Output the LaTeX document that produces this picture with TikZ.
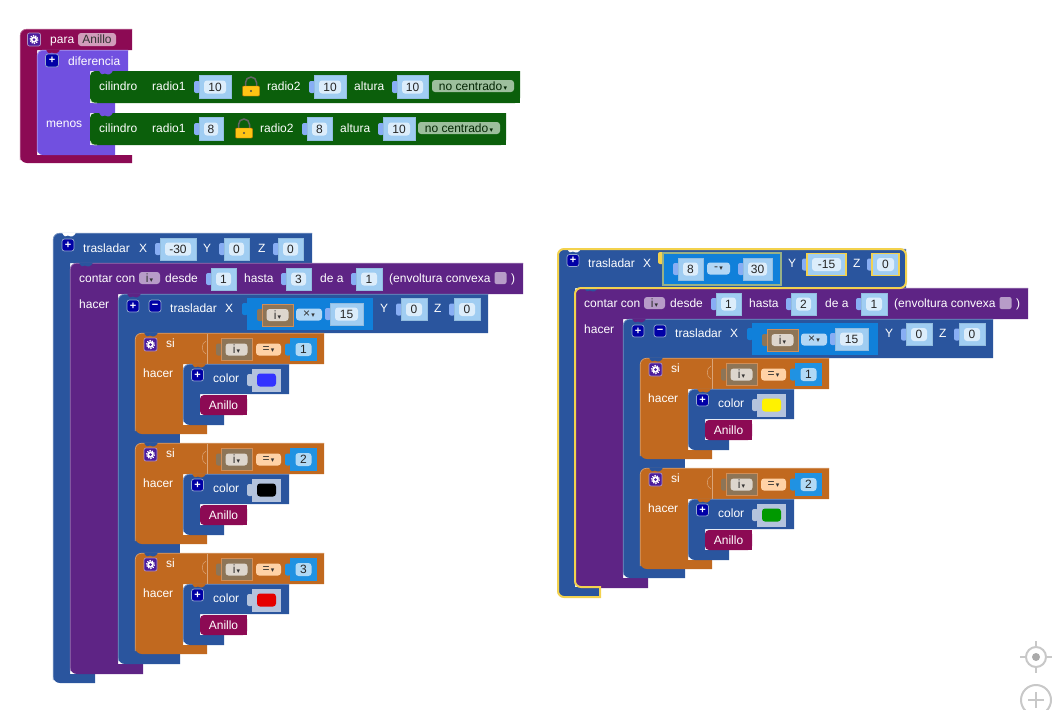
\documentclass[tikz,border=0pt]{standalone}
\usepackage{fontspec}
\setmainfont{Liberation Sans}
\newfontfamily\symfont{DejaVu Sans}
\definecolor{blockblue}{HTML}{2A559E}
\definecolor{blockpurple}{HTML}{5E2485}
\definecolor{blockbrown}{HTML}{C1691F}
\definecolor{blockmaroon}{HTML}{8C0A54}
\definecolor{blockindigo}{HTML}{7150E0}
\definecolor{blockgreen}{HTML}{0B5F0B}
\definecolor{sockblue}{HTML}{A0CDF2}
\definecolor{fieldblue}{HTML}{DCEDFB}
\definecolor{mathblue}{HTML}{1080DA}
\definecolor{numblue}{HTML}{2092E2}
\definecolor{varbrown}{HTML}{8D7557}
\definecolor{goldline}{HTML}{F3D24E}
\definecolor{lockgold}{HTML}{FFC414}
\definecolor{toolgrey}{HTML}{C8C8C8}
\newcommand{\dropmark}{{\symfont\fontsize{7}{7}\selectfont\,▾}}
\tikzset{
    lbl/.style={anchor=base west, inner sep=0pt, yshift=-4pt, text=white, font=\fontsize{12}{14}\selectfont},
    numsock/.style={fill=sockblue, draw=sockblue!92!black, line width=0.4pt, minimum height=22pt, inner sep=0pt},
    numfield/.style={fill=fieldblue, rounded corners=3pt, minimum height=13pt, inner sep=0pt, text=black!85, font=\fontsize{12}{14}\selectfont},
    chip/.style={rounded corners=3pt, minimum height=12pt, inner sep=0pt, text=black!80, font=\fontsize{12}{14}\selectfont},
    plusbtn/.style={fill=blue!65!black, draw=blockblue!50!white, line width=0.7pt, rounded corners=2.5pt, minimum size=12pt, inner sep=0pt, text=white, font=\bfseries\fontsize{11}{11}\selectfont},
    gearbtn/.style={fill=blockpurple!80!blue, draw=blockpurple!50!white, line width=0.7pt, rounded corners=2pt, minimum size=13pt, inner sep=0pt},
}
% tab on the left of a socket
\newcommand{\puztab}[3]{\fill[#3, rounded corners=2pt] ({#1-5},{#2-6}) rectangle ({#1+1},{#2+6});}
% number socket: [options] name, x, cy, width, text
\newcommand{\numbox}[6][]{
    \puztab{#3}{#4}{sockblue!85!blue}
    \node[numsock, minimum width={#5*1pt}, #1] (#2) at ({#3+#5/2},{#4}) {};
    \node[numfield, minimum width={(#5-10)*1pt}] (#2v) at (#2) {#6};
}
% the variable i in a socket: name, x, cy
\newcommand{\varbox}[3]{
    \puztab{#2}{#3}{varbrown}
    \node[fill=varbrown, draw=blockbrown!75!white, line width=0.4pt, minimum width=31pt, minimum height=22pt, inner sep=0pt] (#1) at ({#2+15.5},#3) {};
    \node[chip, fill=varbrown!30!white, minimum width=22pt] (#1v) at (#1) {i\dropmark};
}
% a C shaped block: x, top, right, row bottom, arm x, bar top, bar right, bottom, colour
\newcommand{\cblock}[9]{
    \fill[#9] ({#1+9},#2) -- (#3,#2) -- (#3,#4) -- (#5,#4) -- (#5,#6) -- (#7,#6) -- (#7,#8) [rounded corners=7pt] -- (#1,#8) -- (#1,#2) -- ({#1+9},#2);
    \draw[#9!65!white, line width=0.7pt, rounded corners=6pt] ({#1+0.3},{#8-3}) -- ({#1+0.3},{#2+0.3}) -- (#3,{#2+0.3});
}
% notch in the top edge of a block: x, y, colour
\newcommand{\notch}[3]{
    \fill[#3] ({#1+9},{#2-0.5}) .. controls ({#1+11},{#2+4}) and ({#1+13},{#2+4}) .. ({#1+15},{#2+2.5}) .. controls ({#1+18},{#2+4}) and ({#1+21},{#2+4}) .. ({#1+23},{#2-0.5}) -- cycle;
}
% a lock: name, x, cy
\newcommand{\lockmark}[3]{
    \draw[black!60, line width=1.5pt] ({#2-5.5},{#3+2}) -- ({#2-5.5},{#3-3.5}) arc[start angle=180, end angle=0, radius=5.5pt] -- ({#2+5.5},{#3+2});
    \node[fill=lockgold, draw=orange!80!black, line width=0.4pt, rounded corners=1pt, minimum width=17pt, minimum height=10pt, inner sep=0pt] (#1) at (#2,{#3+5}) {};
    \fill[black!70] (#1) circle (1.1);
}
\newcommand{\gearmark}[1]{
    \fill[white] (#1) circle (3.2);
    \draw[white, line width=1.3pt, dash pattern=on 1.3pt off 1.1pt] (#1) circle (3.9);
    \fill[blockpurple!80!blue] (#1) circle (1.5);
}
% "si" block in its own coordinates: name, number, colour of the swatch
\newcommand{\siblock}[3]{
    \cblock{0}{0}{189}{31}{48}{92}{72}{101}{blockbrown}
    \notch{0}{0}{blockblue}
    \draw[blockbrown!60!white, line width=0.6pt] (72,0.5) -- (72,30.5);
    \draw[blockbrown!60!white, line width=0.5pt] (71,8) .. controls (66,10) and (66,19) .. (71,21);
    \node[gearbtn] (#1gear) at (15.5,11.5) {};
    \gearmark{#1gear}
    \node[lbl] (#1si) at (31,10) {si};
    \node[lbl] (#1hacer) at (8,40) {hacer};
    \varbox{#1var}{86}{16.5}
    \node[chip, fill=orange!35!white, minimum width=25pt] (#1eq) at (133.5,16.5) {=\dropmark};
    \puztab{155}{16.5}{numblue}
    \node[fill=numblue, minimum width=27pt, minimum height=23pt, inner sep=0pt] (#1num) at (168.5,16.5) {};
    \node[numfield, fill=numblue!35!white, minimum width=16pt] (#1numv) at (#1num) {#2};
    \cblock{48}{31}{154}{61}{65}{82}{89}{92}{blockblue}
    \notch{48}{31}{blockbrown}
    \node[plusbtn] (#1plus) at (62.5,42) {+};
    \node[lbl] (#1color) at (78,45) {color};
    \puztab{117}{47}{blockblue!35!white}
    \node[fill=blockblue!35!white, minimum width=29pt, minimum height=23pt, inner sep=0pt] (#1sock) at (131.5,47) {};
    \node[fill=#3, rounded corners=3pt, minimum width=19pt, minimum height=13pt, inner sep=0pt] (#1swatch) at (#1sock) {};
    \fill[blockmaroon, rounded corners=4pt] (112,62) -- (112,82) -- (65,82) -- (65,62) -- cycle;
    \fill[blockmaroon] (100,62) rectangle (112,82);
    \node[lbl, anchor=base] (#1ring) at (88.5,72) {Anillo};
}
% "contar" block in its own coordinates: name, hasta value, bar top, bottom, inner bar top, inner bottom
\newcommand{\contarblock}[6]{
    \cblock{0}{0}{453}{31}{48}{#3}{73}{#4}{blockpurple}
    \notch{0}{0}{blockblue}
    \node[lbl] (#1for) at (9,15) {contar con};
    \node[chip, fill=blockpurple!45!white, minimum width=21pt] (#1i) at (79.5,15) {i\dropmark};
    \node[lbl] (#1from) at (95,15) {desde};
    \numbox{#1a}{141}{16}{25}{1}
    \node[lbl] (#1to) at (174,15) {hasta};
    \numbox{#1b}{216}{16}{25}{#2}
    \node[lbl] (#1by) at (250,15) {de a};
    \numbox{#1c}{286}{16}{26}{1}
    \node[lbl] (#1hull) at (319,15) {(envoltura convexa};
    \node[fill=blockpurple!45!white, rounded corners=2pt, minimum size=12pt, inner sep=0pt] (#1check) at (430.5,15) {};
    \node[lbl] (#1close) at (441,15) {)};
    \node[lbl] (#1do) at (9,41) {hacer};
    \cblock{48}{31}{418}{70}{65}{#5}{110}{#6}{blockblue}
    \fill[blockblue] (65,70) rectangle (110,#5);
    \notch{48}{31}{blockpurple}
    \node[plusbtn] (#1plus) at (63,43) {+};
    \node[plusbtn] (#1minus) at (85,43) {−};
    \node[lbl] (#1tr) at (100,45) {trasladar};
    \node[lbl] (#1x) at (155,45) {X};
    \puztab{177}{46}{mathblue}
    \node[fill=mathblue, minimum width=126pt, minimum height=32pt, inner sep=0pt] (#1math) at (240,51) {};
    \varbox{#1var}{192}{52}
    \node[chip, fill=sockblue!80!white, minimum width=26pt] (#1op) at (239,51.5) {×\dropmark};
    \numbox{#1k}{260}{51}{33}{15}
    \node[lbl] (#1y) at (310,45) {Y};
    \numbox{#1ky}{331}{46.5}{26}{0}
    \node[lbl] (#1z) at (364,45) {Z};
    \numbox{#1kz}{384}{46.5}{26}{0}
}
% green cylinder block: name, top, right, first width, first value, lock x, radio2 x, rest of the row
\newcommand{\cylblock}[8]{
    \fill[blockgreen, rounded corners=5pt] (#3,#2) -- (90,#2) -- (90,{#2+32}) -- (#3,{#2+32}) [sharp corners] -- cycle;
    \fill[blockgreen] ({#3-20},#2) rectangle (#3,{#2+32});
    \draw[white!70!blockgreen, line width=0.7pt, rounded corners=4pt] (90.3,{#2+28}) -- (90.3,{#2+32}) -- (97,{#2+32});
    \notch{90}{#2}{blockindigo}
    \node[lbl] (#1cyl) at (99,{#2+15}) {cilindro};
    \node[lbl] (#1r) at (152,{#2+15}) {radio1};
    \numbox[minimum height=23pt]{#1ra}{199}{#2+16}{#4}{#5}
    \lockmark{#1lock}{#6}{#2+15}
    \node[lbl] (#1s) at (#7,{#2+15}) {radio2};
    #8
    \node[chip, fill=blockgreen!40!white, text=blockgreen!40!black, minimum width=82pt] (#1drop) at ({#3-47},{#2+15}) {no centrado\dropmark};
}
\begin{document}
\begin{tikzpicture}[x=1pt, y=-1pt]
    \useasboundingbox (0,0) rectangle (1053,710);

    % function block
    \cblock{20}{29}{132}{50}{37}{155}{132}{163}{blockmaroon}
    \node[gearbtn] (paragear) at (34,39.5) {};
    \gearmark{paragear}
    \node[lbl] (para) at (50,39) {para};
    \node[chip, fill=blockmaroon!40!white, minimum width=38pt, minimum height=13pt] (paraname) at (97,39.5) {Anillo};
    \fill[blockindigo] (45,50) -- (128,50) -- (128,71) -- (90,71) -- (90,103) -- (115,103) -- (115,113) -- (90,113) -- (90,145) -- (115,145) -- (115,155) [rounded corners=6pt] -- (37,155) -- (37,50) -- (45,50);
    \draw[blockindigo!60!white, line width=0.7pt, rounded corners=5pt] (37.3,152) -- (37.3,50.3) -- (128,50.3);
    \notch{37}{50}{blockmaroon}
    \node[plusbtn, minimum size=13pt] (diffplus) at (52,60.5) {+};
    \node[lbl] (diff) at (68,61) {diferencia};
    \node[lbl] (menos) at (46,123) {menos};

    \cylblock{one}{71}{520}{32}{10}{251}{267}{
        \numbox[minimum height=23pt]{onerb}{314}{87}{32}{10}
        \node[lbl] (onealt) at (354,86) {altura};
        \numbox[minimum height=23pt]{onerc}{397}{87}{31}{10}
    }
    \cylblock{two}{113}{506}{24}{8}{244}{260}{
        \numbox[minimum height=23pt]{tworb}{307}{129}{25}{8}
        \node[lbl] (twoalt) at (340,128) {altura};
        \numbox[minimum height=23pt]{tworc}{383}{129}{32}{10}
    }

    % left group
    \cblock{53}{233}{312}{263}{70}{674}{95}{683}{blockblue}
    \notch{53}{233}{white}
    \node[plusbtn] (leftplus) at (68,245) {+};
    \node[lbl] (lefttr) at (83,248) {trasladar};
    \node[lbl] (leftx) at (139,248) {X};
    \numbox{leftkx}{160}{249}{36}{-30}
    \node[lbl] (lefty) at (203,248) {Y};
    \numbox{leftky}{224}{249}{25}{0}
    \node[lbl] (leftz) at (258,248) {Z};
    \numbox{leftkz}{278}{249}{25}{0}
    \begin{scope}[shift={(70,263)}]
        \contarblock{lfor}{3}{401}{411}{391}{401}
        \begin{scope}[shift={(65,70)}]
            \siblock{lsia}{1}{blue!80!white}
        \end{scope}
        \begin{scope}[shift={(65,180)}]
            \siblock{lsib}{2}{black}
        \end{scope}
        \begin{scope}[shift={(65,290)}]
            \siblock{lsic}{3}{red!90!black}
        \end{scope}
    \end{scope}

    % right group
    \cblock{558}{249}{906}{288}{575}{587}{600}{597}{blockblue}
    \notch{558}{249}{white}
    \begin{scope}[shift={(575,288)}]
        \contarblock{rfor}{2}{290}{300}{280}{290}
        \begin{scope}[shift={(65,70)}]
            \siblock{rsia}{1}{yellow}
        \end{scope}
        \begin{scope}[shift={(65,180)}]
            \siblock{rsib}{2}{green!60!black}
        \end{scope}
    \end{scope}
    \draw[goldline, line width=2pt, rounded corners=6pt] (558,590) -- (558,249) -- (906,249) -- (906,288) [sharp corners] -- (581,288) [rounded corners=6pt] -- (575,288) -- (575,587) [sharp corners] -- (600,587) -- (600,597) [rounded corners=6pt] -- (558,597) -- (558,585);
    \node[plusbtn] (rightplus) at (573,260.5) {+};
    \node[lbl] (righttr) at (588,263) {trasladar};
    \node[lbl] (rightx) at (643,263) {X};
    \puztab{663}{258}{goldline}
    \node[fill=mathblue, draw=goldline!60!mathblue, line width=1.2pt, minimum width=118pt, minimum height=32pt, inner sep=0pt] (rightmath) at (722,269) {};
    \numbox{rightka}{678}{269}{25}{8}
    \node[chip, fill=sockblue!80!white, minimum width=23pt] (rightop) at (718.5,268.5) {-\dropmark};
    \numbox{rightkb}{743}{269}{29}{30}
    \node[lbl] (righty) at (788,263) {Y};
    \numbox[draw=goldline, line width=1.5pt]{rightky}{807}{264.5}{39}{-15}
    \node[lbl] (rightz) at (853,263) {Z};
    \numbox[draw=goldline, line width=1.5pt]{rightkz}{872}{264.5}{27}{0}

    % workspace controls
    \node[circle, draw=toolgrey, line width=2pt, minimum size=20pt, inner sep=0pt] (target) at (1036,657) {};
    \fill[toolgrey!85!black] (target) circle (4);
    \draw[toolgrey, line width=2pt] (target.north) -- ++(0,-5);
    \draw[toolgrey, line width=2pt] (target.south) -- ++(0,5);
    \draw[toolgrey, line width=2pt] (target.west) -- ++(-5,0);
    \draw[toolgrey, line width=2pt] (target.east) -- ++(5,0);
    \node[circle, draw=toolgrey, line width=2pt, minimum size=30pt, inner sep=0pt] (zoomin) at (1036,700) {};
    \draw[toolgrey, line width=2pt] ([xshift=-8pt]zoomin.center) -- ([xshift=8pt]zoomin.center);
    \draw[toolgrey, line width=2pt] ([yshift=-8pt]zoomin.center) -- ([yshift=8pt]zoomin.center);
\end{tikzpicture}
\end{document}
